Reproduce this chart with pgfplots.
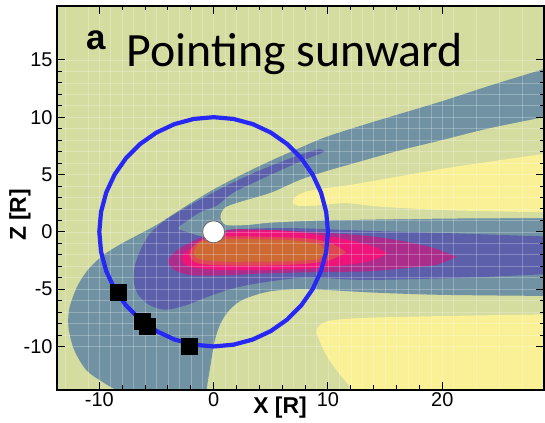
\documentclass[border=0pt]{standalone}
\usepackage{fontspec}
\setmainfont{Liberation Sans}
\newfontfamily\calibri{Carlito}
\usepackage{pgfplots}
\pgfplotsset{compat=1.18}

% contour level colours
\definecolor{bgolive}{RGB}{212,220,160}
\definecolor{lvlone}{RGB}{112,146,163}
\definecolor{lvltwo}{RGB}{92,96,170}
\definecolor{lvlthree}{RGB}{170,45,140}
\definecolor{lvlfour}{RGB}{238,20,122}
\definecolor{lvlfive}{RGB}{222,70,85}
\definecolor{lvlsix}{RGB}{205,105,50}
\definecolor{lvlneg}{RGB}{250,240,150}
\definecolor{orbit}{RGB}{40,40,245}

\begin{document}
\begin{tikzpicture}
\begin{axis}[
  name=ax,
  set layers, axis on top,
  width=487bp, height=384bp, scale only axis,
  xmin=-13.7, xmax=28.9, ymin=-13.8, ymax=19.7,
  xtick={-10,0,10,20}, ytick={-10,-5,0,5,10,15},
  minor x tick num=4, minor y tick num=4,
  extra x ticks={-13,-11,-9,-7,-5,-3,-1,1,3,5,7,9,11,13,15,17,19,21,23,25,27},
  extra x tick labels={},
  extra x tick style={major tick length=0pt, grid=major},
  tick pos=both, tick align=inside,
  major tick length=8bp, minor tick length=4.5bp,
  every tick/.style={black, line width=0.9bp},
  axis line style={line width=1.3bp},
  grid=both,
  major grid style={white, opacity=0.25, line width=0.5bp},
  minor grid style={white, opacity=0.25, line width=0.5bp},
  axis background/.style={fill=bgolive},
  /pgf/number format/assume math mode=true,
  tick label style={font=\fontsize{20}{20}\selectfont},
  xticklabel style={yshift=1bp},
  yticklabel style={xshift=-1bp},
  xlabel={\textbf{X [R]}},
  ylabel={\textbf{Z [R]}},
  label style={font=\fontsize{23}{23}\selectfont},
  xlabel style={at={(axis description cs:0.458,0)}, anchor=north, yshift=-3bp},
  ylabel style={at={(axis description cs:-0.076,0.456)}, anchor=center},
]

% level 1
\addplot[draw=none, fill=lvlone, smooth, tension=0.5] coordinates {
 (30,14.5) (28.9,14.2) (24,12.7) (20,11.4) (14,9.6) (9.9,8.3) (7.5,7.3)
 (5,6.2) (2.5,5.0) (0,3.7) (-2.5,2.2) (-5,0.6) (-8,-1.0) (-9.6,-2.0)
 (-10.9,-3.2) (-11.9,-4.7) (-12.6,-6.6) (-12.7,-8.3) (-12.2,-10.3)
 (-11.1,-12.1) (-9.4,-13.3) (-7.9,-14.2) (-7,-15) (-0.5,-15) (-0.6,-13.8)
 (-0.3,-11.8) (0.1,-9.5) (0.6,-8.0) (1.4,-6.8) (2.6,-5.9) (4.9,-5.2)
 (8.1,-5.0) (14,-5.3) (20,-5.5) (30,-5.6)
};
% background-level gap between the upper band and the sheet
\addplot[draw=none, fill=bgolive, smooth, tension=0.5] coordinates {
 (30,10.2) (28.9,10.0) (24,9.0) (20,8.0) (16.3,7.1) (12,5.9) (9.9,5.3)
 (7.5,4.5) (5,3.4) (2.3,2.6) (1.0,2.1) (0.6,1.3) (1.1,0.6) (3,0.6)
 (5,0.8) (10,1.0) (20,1.15) (28.9,1.2) (30,1.2)
};
% negative level, upper finger
\addplot[draw=none, fill=lvlneg, smooth, tension=0.5] coordinates {
 (6.9,2.5) (7.2,3.1) (8.5,3.6) (12,4.1) (16,4.8) (20,5.5) (24,6.1)
 (28.9,6.8) (30,7.0) (30,1.6) (28.9,1.7) (24,1.8) (20,1.9) (14.5,2.2)
 (11.6,2.5) (9,2.3) (7.4,2.25)
};
% negative level, lower right
\addplot[draw=none, fill=lvlneg, smooth, tension=0.5] coordinates {
 (12.3,-15) (12.1,-13.8) (11.0,-12.4) (10.0,-11.0) (9.3,-9.6) (9.0,-8.6)
 (9.5,-8.0) (10.5,-7.7) (13.4,-7.5) (20,-7.35) (28.9,-7.2) (30,-7.2)
 (30,-15)
};
% level 2
\addplot[draw=none, fill=lvltwo, smooth, tension=0.5] coordinates {
 (9.7,7.0) (9.2,7.2) (7.5,6.7) (4.6,5.6) (1.7,4.3) (-1.2,2.8) (-4.1,1.1)
 (-5.6,-0.2) (-6.4,-1.6) (-6.9,-3.0) (-7.0,-4.3) (-6.6,-5.5) (-5.6,-6.4)
 (-4.2,-6.8) (-2.4,-6.4) (-0.6,-5.7) (1.5,-5.0) (3.8,-4.5) (8,-4.0)
 (13.4,-4.2) (22,-4.0) (28.9,-3.7) (30,-3.6) (30,-0.4) (28.9,-0.4)
 (20,-0.1) (13,0.1) (8,0.3) (4,0.3) (1.4,0.1) (0,-0.3) (-1.0,-0.4)
 (-2.1,-0.1) (-3.1,0.3) (-2.4,0.9) (-1.2,1.7) (0.3,2.3) (1.7,3.4)
 (4.6,4.8) (7.5,6.1) (9.3,6.8)
};
% level 3
\addplot[draw=none, fill=lvlthree, smooth, tension=0.5] coordinates {
 (21.3,-2.2) (19.2,-1.4) (16.5,-0.8) (13.4,-0.35) (10,-0.1) (7.5,0.05)
 (4,0.2) (1.5,0.2) (-0.5,-0.3) (-2.0,-0.9) (-3.3,-1.7) (-4.0,-2.6)
 (-3.3,-3.4) (-1.8,-3.8) (1,-3.8) (4,-3.65) (7.5,-3.55) (10,-3.5)
 (13.4,-3.45) (16.5,-3.2) (19.5,-2.9)
};
% level 4
\addplot[draw=none, fill=lvlfour, smooth, tension=0.5] coordinates {
 (15.2,-1.9) (14.3,-1.4) (13,-1.0) (11,-0.55) (8.7,-0.2) (5.8,0.1)
 (2,0.05) (0,-0.4) (-1.5,-1.1) (-2.5,-1.8) (-2.8,-2.4) (-2.2,-3.0)
 (0,-3.3) (3,-3.35) (5.8,-3.3) (8.7,-3.2) (10.5,-3.0) (13,-2.7) (14.3,-2.35)
};
% level 5
\addplot[draw=none, fill=lvlfive, smooth, tension=0.5] coordinates {
 (11.6,-1.8) (10.5,-1.1) (8.5,-0.6) (5,-0.45) (1,-0.4) (-1.0,-0.7)
 (-1.9,-1.4) (-2.1,-2.1) (-1.5,-2.7) (0,-2.9) (4,-2.95) (8,-2.8) (10.3,-2.45)
};
% level 6
\addplot[draw=none, fill=lvlsix, smooth, tension=0.5] coordinates {
 (9.9,-1.8) (9.2,-1.1) (7,-0.75) (4,-0.65) (1,-0.65) (-1.0,-0.85)
 (-1.6,-1.4) (-1.7,-2.0) (-1.2,-2.4) (1,-2.6) (4,-2.6) (7,-2.55) (9.2,-2.4)
};

% orbit of radius 10
\addplot[orbit, line width=4.2bp, on layer=axis foreground] coordinates {
 (10,0) (9.848,1.736) (9.397,3.420) (8.660,5.000) (7.660,6.428)
 (6.428,7.660) (5.000,8.660) (3.420,9.397) (1.736,9.848) (0,10)
 (-1.736,9.848) (-3.420,9.397) (-5,8.660) (-6.428,7.660) (-7.660,6.428)
 (-8.660,5) (-9.397,3.420) (-9.848,1.736) (-10,0) (-9.848,-1.736)
 (-9.397,-3.420) (-8.660,-5) (-7.660,-6.428) (-6.428,-7.660) (-5,-8.660)
 (-3.420,-9.397) (-1.736,-9.848) (0,-10) (1.736,-9.848) (3.420,-9.397)
 (5,-8.660) (6.428,-7.660) (7.660,-6.428) (8.660,-5) (9.397,-3.420)
 (9.848,-1.736)
} -- cycle;

% planet
\addplot[only marks, mark=*, mark size=11bp,
  mark options={fill=white, draw=black!60, line width=0.8bp},
  on layer=axis foreground, mark layer=axis foreground] coordinates {(0,0)};

% spacecraft positions
\addplot[only marks, mark=square*, mark size=8bp,
  mark options={fill=black, draw=black, line width=0.6bp},
  on layer=axis foreground, mark layer=axis foreground] coordinates {
 (-8.3,-5.3) (-6.2,-7.8) (-5.8,-8.2) (-2.1,-10.0)
};

\begin{pgfonlayer}{axis foreground}
\node[anchor=base west, inner sep=0pt, font=\fontsize{35}{35}\selectfont\bfseries]
  at (axis cs:-11.1,15.9) {a};
\node[anchor=base west, inner sep=0pt, font=\fontsize{48}{48}\selectfont\calibri]
  at (axis cs:-7.6,14.4) {Pointing sunward};
\end{pgfonlayer}
\end{axis}
\pgfresetboundingbox
\path[use as bounding box] ([xshift=-57bp,yshift=-33bp]ax.south west)
  rectangle ([xshift=1bp,yshift=6bp]ax.north east);
\end{tikzpicture}
\end{document}
